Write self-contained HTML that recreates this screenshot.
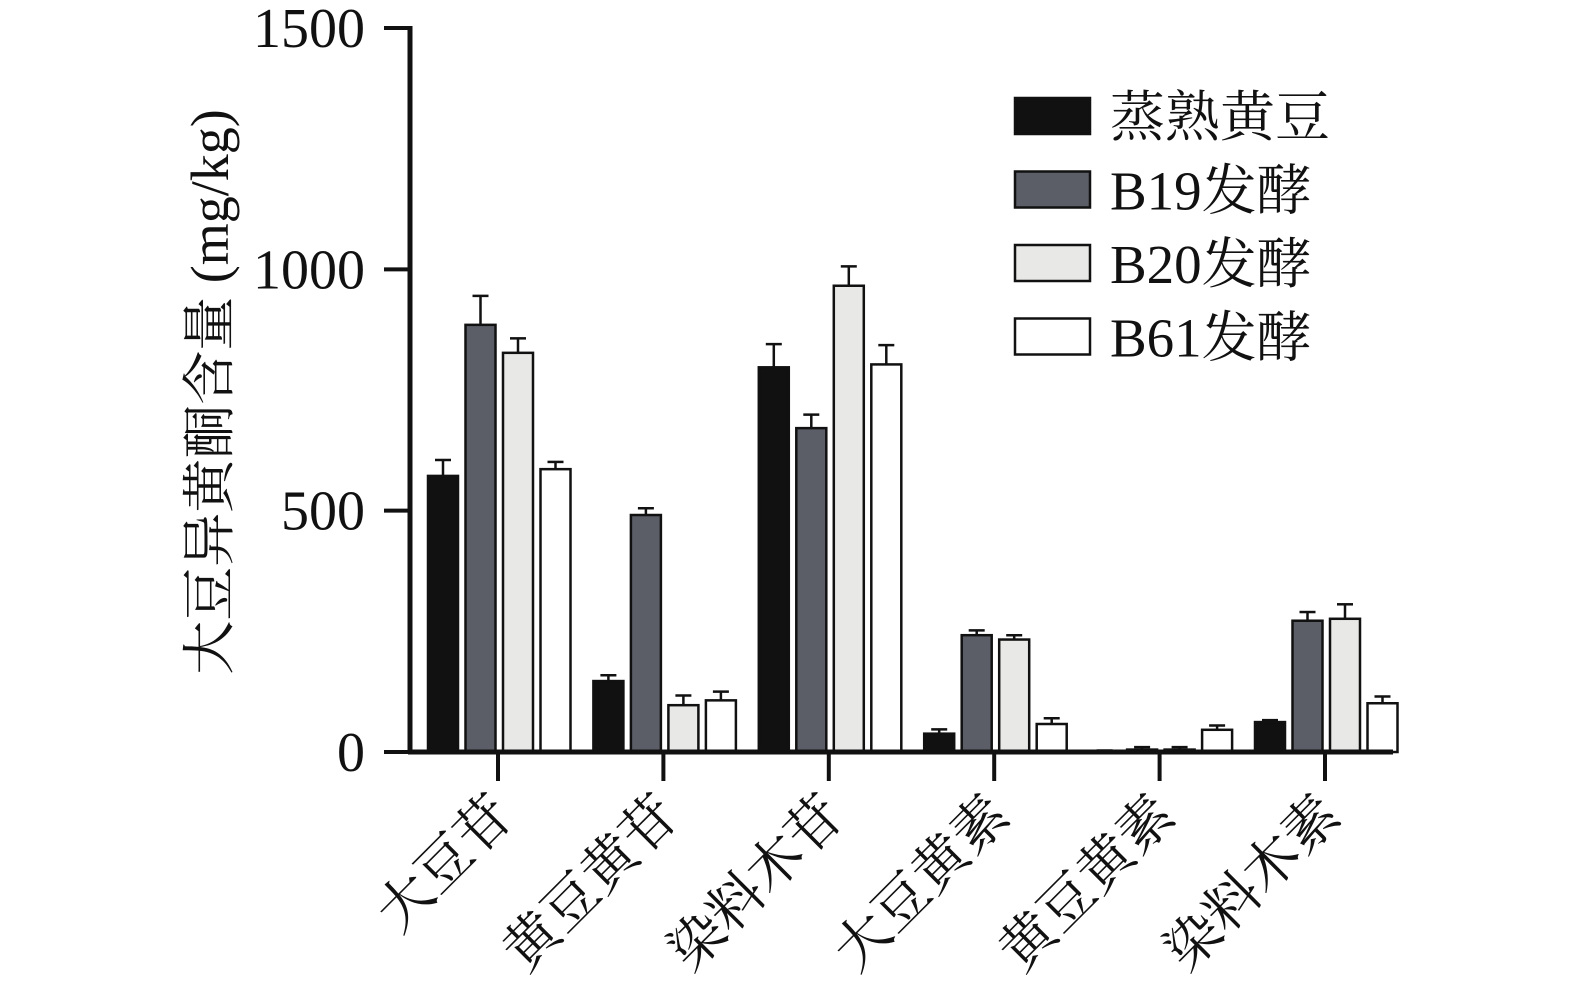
<!DOCTYPE html>
<html><head><meta charset="utf-8"><style>
html,body{margin:0;padding:0;background:#fff;}
svg text{font-family:"Liberation Serif","Noto Serif CJK SC",serif;fill:#111;}
</style></head><body>
<svg id="chart" width="1575" height="996" viewBox="0 0 1575 996" xmlns="http://www.w3.org/2000/svg">
<g id="bars"></g>
<g id="axes"></g>
<g id="legend"></g>
</svg>
<script>
const categories = ["大豆苷","黄豆黄苷","染料木苷","大豆黄素","黄豆黄素","染料木素"];
const seriesNames = ["蒸熟黄豆","B19发酵","B20发酵","B61发酵"];
const steamed = [572,147,797,38,1,62];
const b19 = [885,491,671,242,5,272];
const b20 = [827,97,966,233,5,276];
const b61 = [586,107,803,58,46,101];
const steamedErr = [33,12,48,9,2,4];
const b19Err = [60,14,28,10,5,18];
const b20Err = [30,20,40,9,5,30];
const b61Err = [15,18,40,12,9,14];
const yTicks = [0,500,1000,1500];

const NS="http://www.w3.org/2000/svg";
const colors=["#111111","#5b5e66","#e8e8e6","#ffffff"];
const y0=752, yTop=28, yMax=1500;
const y=v=>y0-(v/yMax)*(y0-yTop);
const groupX=i=>498+i*165.4;
const barW=30, barStep=37.5;
function mk(tag,attrs,parent){const e=document.createElementNS(NS,tag);for(const k in attrs)e.setAttribute(k,attrs[k]);parent.appendChild(e);return e;}
const bars=document.getElementById('bars'), axes=document.getElementById('axes'), legend=document.getElementById('legend');
const allVals=[steamed,b19,b20,b61], allErr=[steamedErr,b19Err,b20Err,b61Err];
categories.forEach((c,i)=>{
  allVals.forEach((arr,s)=>{
    const x=groupX(i)-70+s*barStep;
    const top=y(arr[i]), etop=y(arr[i]+allErr[s][i]);
    const cx=x+barW/2;
    const l=mk('line',{x1:cx,x2:cx,y1:top,y2:etop,stroke:'#111','stroke-width':2.5},bars);
    
    
    const cap=mk('line',{x1:cx-8,x2:cx+8,y1:etop,y2:etop,stroke:'#111','stroke-width':2.5},bars);
    
    
    const r=mk('rect',{x:x,y:top,width:barW,height:Math.max(0,y0-top),fill:colors[s],stroke:'#111','stroke-width':2.5},bars);
    
    
  });
  const tk=mk('line',{x1:groupX(i),x2:groupX(i),y1:y0,y2:781,stroke:'#111','stroke-width':4},axes);
  
  
  const t=mk('text',{x:0,y:0,'font-size':55,'text-anchor':'end',transform:`translate(${groupX(i)+18},${818}) rotate(-45)`},axes);
  t.textContent=c;
  
  
});
const ya=mk('line',{x1:410,x2:410,y1:yTop-2,y2:y0+2,stroke:'#111','stroke-width':5},axes);


const xa=mk('line',{x1:408,x2:1393,y1:y0,y2:y0,stroke:'#111','stroke-width':5},axes);


yTicks.forEach(v=>{
  const l=mk('line',{x1:384,x2:410,y1:y(v),y2:y(v),stroke:'#111','stroke-width':4},axes);
  
  
  const t=mk('text',{x:365,y:y(v)+19,'font-size':56,'text-anchor':'end'},axes);
  t.textContent=v;
  
  
});
const yt=mk('text',{x:0,y:0,'font-size':54,'text-anchor':'middle',transform:'translate(228,392) rotate(-90)'},axes);
yt.textContent='大豆异黄酮含量 (mg/kg)';


seriesNames.forEach((n,s)=>{
  const ly=98+s*73.5;
  const r=mk('rect',{x:1015,y:ly,width:75,height:36,fill:colors[s],stroke:'#111','stroke-width':2.5},legend);
  
  
  const t=mk('text',{x:1110,y:ly+38,'font-size':55},legend);
  t.textContent=n;
  
  
});
</script>
</body></html>
